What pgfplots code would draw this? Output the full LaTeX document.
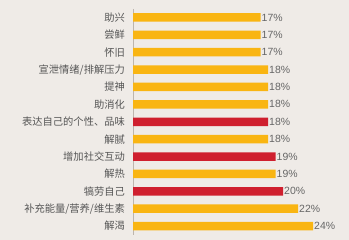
\documentclass[border=0pt]{standalone}
\usepackage{pgfplots}
\pgfplotsset{compat=1.18}
\usepackage{fontspec}
\setmainfont{Liberation Sans}
\newfontfamily\cjk{Noto Sans CJK SC}
\definecolor{bg}{HTML}{EFEBE7}
\definecolor{ye}{HTML}{F9B512}
\definecolor{rd}{HTML}{CF1F2E}
\definecolor{tx}{HTML}{555555}
\definecolor{ax}{HTML}{BDB5AD}
\begin{document}
\begin{tikzpicture}[x=1bp,y=1bp]
\fill[bg] (0,0) rectangle (349,240);
\begin{axis}[
  at={(133bp,5.3bp)}, anchor=south west,
  scale only axis, width=210bp, height=225.9bp,
  xmin=0, xmax=28, ymin=-0.5, ymax=12.5, y dir=reverse,
  axis x line=none, axis y line=left,
  axis line style={-, draw=ax, line width=0.8bp},
  xbar, bar width=8.5bp, bar shift=0pt,
  ytick={0,...,12},
  yticklabels={助兴,尝鲜,怀旧,宣泄情绪/排解压力,提神,助消化,表达自己的个性、品味,解腻,增加社交互动,解热,犒劳自己,补充能量/营养/维生素,解渴},
  yticklabel style={font=\cjk\fontsize{10.3}{12}\selectfont, text=tx, anchor=east, inner xsep=0pt, xshift=-8bp},
  major tick length=0pt, ytick style={draw=none},
  point meta=x,
  /pgf/number format/assume math mode=true,
  nodes near coords={\pgfmathprintnumber{\pgfplotspointmeta}\%},
  nodes near coords style={font=\fontsize{10.5}{12}\selectfont, text=tx!90, anchor=west, inner xsep=1bp},
  clip=false,
]
\addplot[fill=ye, draw=none] coordinates {(17,0) (17,1) (17,2) (18,3) (18,4) (18,5) (18,7) (19,9) (22,11) (24,12)};
\addplot[fill=rd, draw=none] coordinates {(18,6) (19,8) (20,10)};
\end{axis}
\end{tikzpicture}
\end{document}
